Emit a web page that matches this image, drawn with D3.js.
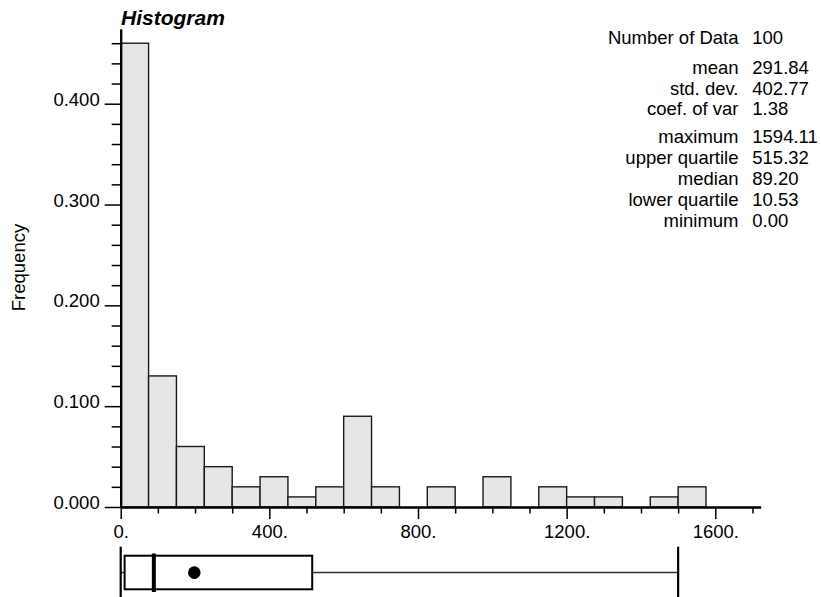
<!DOCTYPE html>
<html>
<head>
<meta charset="utf-8">
<script src="https://cdn.jsdelivr.net/npm/d3@7"></script>
<style>
  html, body { margin: 0; padding: 0; background: #fff; }
  svg { display: block; }
  text { font-family: "Liberation Sans", Arial, Helvetica, sans-serif; fill: #000; }
</style>
</head>
<body>
<svg id="chart" width="821" height="597"></svg>
<script>
// Histogram bins (lower edge of each class) and relative frequencies
const binWidth = 75;
const binLow = [0, 75, 150, 225, 300, 375, 450, 525, 600, 675, 750, 825, 900, 975,
                1050, 1125, 1200, 1275, 1350, 1425, 1500];
const frequency = [0.46, 0.13, 0.06, 0.04, 0.02, 0.03, 0.01, 0.02, 0.09, 0.02, 0.00,
                   0.02, 0.00, 0.03, 0.00, 0.02, 0.01, 0.01, 0.00, 0.01, 0.02];

// Axis ticks
const xMajorTicks = [0, 400, 800, 1200, 1600];
const xMajorLabels = ["0.", "400.", "800.", "1200.", "1600."];
const xMinorTicks = [100, 200, 300, 500, 600, 700, 900, 1000, 1100, 1300, 1400, 1500, 1700];
const yMajorTicks = [0, 0.1, 0.2, 0.3, 0.4];
const yMajorLabels = ["0.000", "0.100", "0.200", "0.300", "0.400"];
const yMinorTicks = [0.02, 0.04, 0.06, 0.08, 0.12, 0.14, 0.16, 0.18, 0.22, 0.24, 0.26, 0.28,
                     0.32, 0.34, 0.36, 0.38, 0.42, 0.44, 0.46];

// Summary statistics panel (three groups)
const statsCount = [["Number of Data", "100"]];
const statsMoments = [["mean", "291.84"], ["std. dev.", "402.77"], ["coef. of var", "1.38"]];
const statsQuantiles = [["maximum", "1594.11"], ["upper quartile", "515.32"], ["median", "89.20"],
                        ["lower quartile", "10.53"], ["minimum", "0.00"]];

// Box plot values
const boxLow = 10.53, boxHigh = 515.32, boxMedian = 89.20;
const whiskerLow = 0, whiskerHigh = 1500;
const dotValue = 198;

const FONT = 18.5;
const svg = d3.select("#chart");

const x = d3.scaleLinear().domain([0, 1722]).range([120.7, 120.7 + 1722 * 0.371625]);
const y = d3.scaleLinear().domain([0, 0.474]).range([507, 507 - 0.474 * 1008.25]);

// Bars
svg.append("g").selectAll("rect")
  .data(frequency)
  .join("rect")
  .attr("x", (d, i) => x(binLow[i]))
  .attr("y", d => y(d))
  .attr("width", (d, i) => x(binLow[i] + binWidth) - x(binLow[i]))
  .attr("height", d => y(0) - y(d))
  .attr("fill", "#e6e6e6")
  .attr("stroke", "#1a1a1a")
  .attr("stroke-width", 1.4);

// X axis: minor ticks, then labelled major ticks
const gxMinor = svg.append("g").attr("transform", `translate(0,${y(0)})`)
  .call(d3.axisBottom(x).tickValues(xMinorTicks).tickSize(6.5).tickSizeOuter(0).tickFormat(""));
const gx = svg.append("g").attr("transform", `translate(0,${y(0)})`)
  .call(d3.axisBottom(x).tickValues(xMajorTicks).tickSize(12).tickSizeOuter(0).tickPadding(6)
    .tickFormat((d, i) => xMajorLabels[i]));

// Y axis
const gyMinor = svg.append("g").attr("transform", `translate(${x(0)},0)`)
  .call(d3.axisLeft(y).tickValues(yMinorTicks).tickSize(9).tickSizeOuter(0).tickFormat(""));
const gy = svg.append("g").attr("transform", `translate(${x(0)},0)`)
  .call(d3.axisLeft(y).tickValues(yMajorTicks).tickSize(16).tickSizeOuter(0).tickPadding(5)
    .tickFormat((d, i) => yMajorLabels[i]));

[gxMinor, gx, gyMinor, gy].forEach(g => {
  g.selectAll(".domain").attr("stroke", "#000").attr("stroke-width", 2);
  g.selectAll(".tick line").attr("stroke", "#000").attr("stroke-width", 1.5);
  g.selectAll("text").attr("font-size", FONT).attr("fill", "#000")
    .attr("font-family", '"Liberation Sans", Arial, sans-serif');
});
gy.selectAll(".tick text").attr("dy", 1.5);

// Axis titles
svg.append("text")
  .attr("x", 121).attr("y", 25)
  .attr("font-size", 21).attr("font-weight", "bold").attr("font-style", "italic")
  .text("Histogram");

svg.append("text")
  .attr("transform", "translate(25,267.5) rotate(-90)")
  .attr("text-anchor", "middle")
  .attr("font-size", FONT)
  .text("Frequency");

// Statistics panel
const statsLines = [];
statsCount.forEach(r => statsLines.push({ row: r, y: 44.3 }));
statsMoments.forEach((r, i) => statsLines.push({ row: r, y: 74.3 + i * 20.2 }));
statsQuantiles.forEach((r, i) => statsLines.push({ row: r, y: 143.3 + i * 20.8 }));

const stats = svg.append("g").attr("font-size", FONT);
stats.selectAll("text.lbl").data(statsLines).join("text")
  .attr("class", "lbl")
  .attr("x", 738.5).attr("y", d => d.y)
  .attr("text-anchor", "end")
  .text(d => d.row[0]);
stats.selectAll("text.val").data(statsLines).join("text")
  .attr("class", "val")
  .attr("x", 752.3).attr("y", d => d.y)
  .text(d => d.row[1]);

// Box plot below the axis
const bp = svg.append("g");
const boxTop = 555.7, boxBottom = 589.3, boxMid = 572.6;
bp.append("line")
  .attr("x1", x(whiskerLow)).attr("x2", x(whiskerHigh))
  .attr("y1", boxMid).attr("y2", boxMid)
  .attr("stroke", "#333").attr("stroke-width", 1.5);
bp.append("rect")
  .attr("x", x(boxLow)).attr("y", boxTop)
  .attr("width", x(boxHigh) - x(boxLow)).attr("height", boxBottom - boxTop)
  .attr("fill", "#fff").attr("stroke", "#000").attr("stroke-width", 2);
bp.selectAll("line.end").data([whiskerLow, whiskerHigh]).join("line")
  .attr("class", "end")
  .attr("x1", d => x(d)).attr("x2", d => x(d))
  .attr("y1", 546.7).attr("y2", 600)
  .attr("stroke", "#000").attr("stroke-width", 2.2);
bp.append("line")
  .attr("x1", x(boxMedian)).attr("x2", x(boxMedian))
  .attr("y1", 553.5).attr("y2", 592)
  .attr("stroke", "#000").attr("stroke-width", 4);
bp.append("circle")
  .attr("cx", x(dotValue)).attr("cy", boxMid).attr("r", 6.3)
  .attr("fill", "#000");
</script>
</body>
</html>
